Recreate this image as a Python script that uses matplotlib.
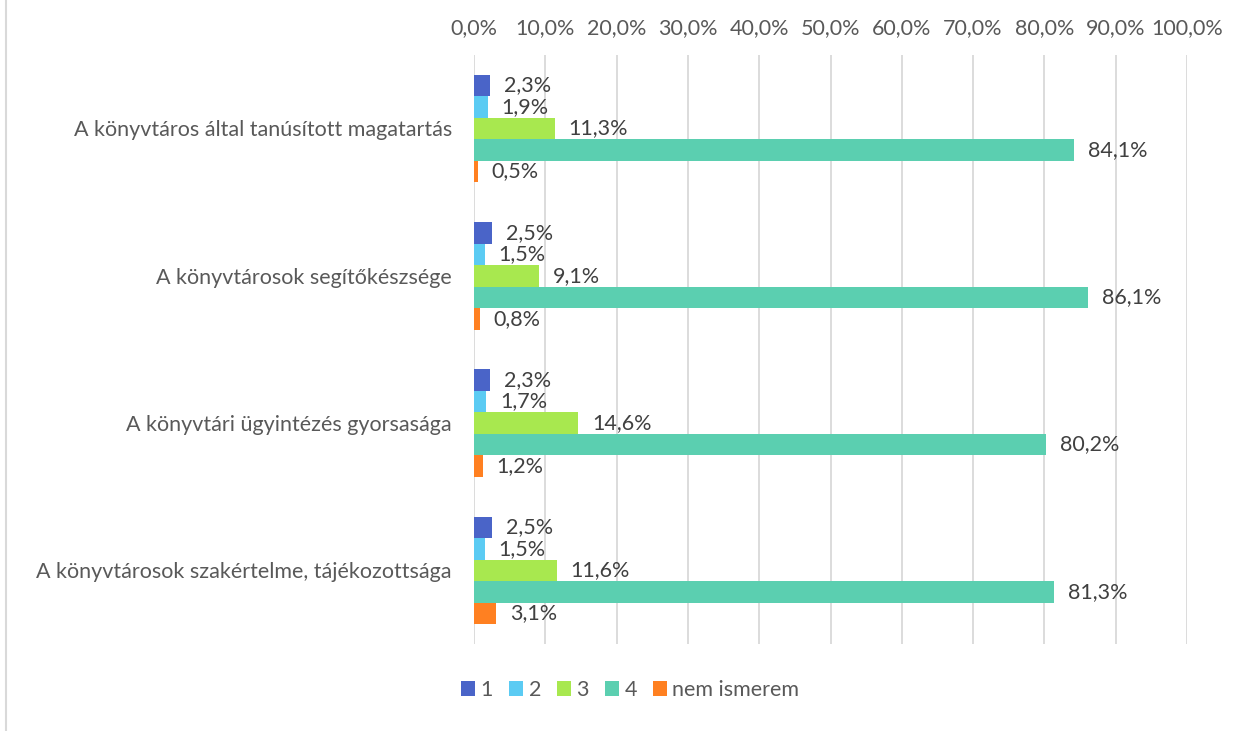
import numpy as np
import matplotlib.pyplot as plt
from matplotlib.ticker import FuncFormatter

plt.rcParams['font.family'] = ['Lato', 'DejaVu Sans']

categories = ["A könyvtáros által tanúsított magatartás",
              "A könyvtárosok segítőkészsége",
              "A könyvtári ügyintézés gyorsasága",
              "A könyvtárosok szakértelme, tájékozottsága"]
series_names = ["1", "2", "3", "4", "nem ismerem"]
s1 = [2.3, 2.5, 2.3, 2.5]
s2 = [1.9, 1.5, 1.7, 1.5]
s3 = [11.3, 9.1, 14.6, 11.6]
s4 = [84.1, 86.1, 80.2, 81.3]
s5 = [0.5, 0.8, 1.2, 3.1]
colors = ["#4A64C8", "#5BCBF3", "#A8E84F", "#5BCFB0", "#FF8021"]

txt = "#595959"
fs = 15.5

fig = plt.figure(figsize=(12.52, 7.31), dpi=100)
ax = fig.add_axes([0.3786, 0.119, 0.5695, 0.806])

y = np.arange(len(categories))
h = 0.146
for i, (vals, name, c) in enumerate(zip([s1, s2, s3, s4, s5], series_names, colors)):
    pos = y - 2 * h + i * h
    ax.barh(pos, vals, height=h, color=c, label=name, zorder=3)
    for p, v in zip(pos, vals):
        ax.annotate(f"{v:.1f}%".replace(".", ","), (v, p), xytext=(10, 0),
                    textcoords="offset points", va="center", ha="left",
                    fontsize=fs, color="#404040")

ax.set_xlim(0, 100)
ax.set_ylim(len(categories) - 0.5, -0.5)
ax.set_xticks(np.arange(0, 101, 10))
ax.xaxis.set_major_formatter(FuncFormatter(lambda v, p: f"{v:.1f}%".replace(".", ",")))
ax.xaxis.tick_top()
ax.set_yticks(y)
ax.set_yticklabels(categories)
ax.tick_params(axis="both", length=0, labelsize=fs, labelcolor=txt)
ax.tick_params(axis="x", pad=12)
ax.tick_params(axis="y", pad=16)
ax.grid(axis="x", color="#D9D9D9", linewidth=1.3, zorder=0)
for s in ax.spines.values():
    s.set_visible(False)

ax.legend(loc="center", bbox_to_anchor=(0.5035 / 0.5695 - 0.3786 / 0.5695, -0.078),
          ncol=5, frameon=False, fontsize=fs, labelcolor=txt,
          handlelength=0.65, handleheight=0.65, handletextpad=0.25, columnspacing=0.75)

fig.add_artist(plt.Line2D([0.0045, 0.0045], [0, 1], color="#D9D9D9", linewidth=1.5))

fig.savefig("out.png", dpi=100)
